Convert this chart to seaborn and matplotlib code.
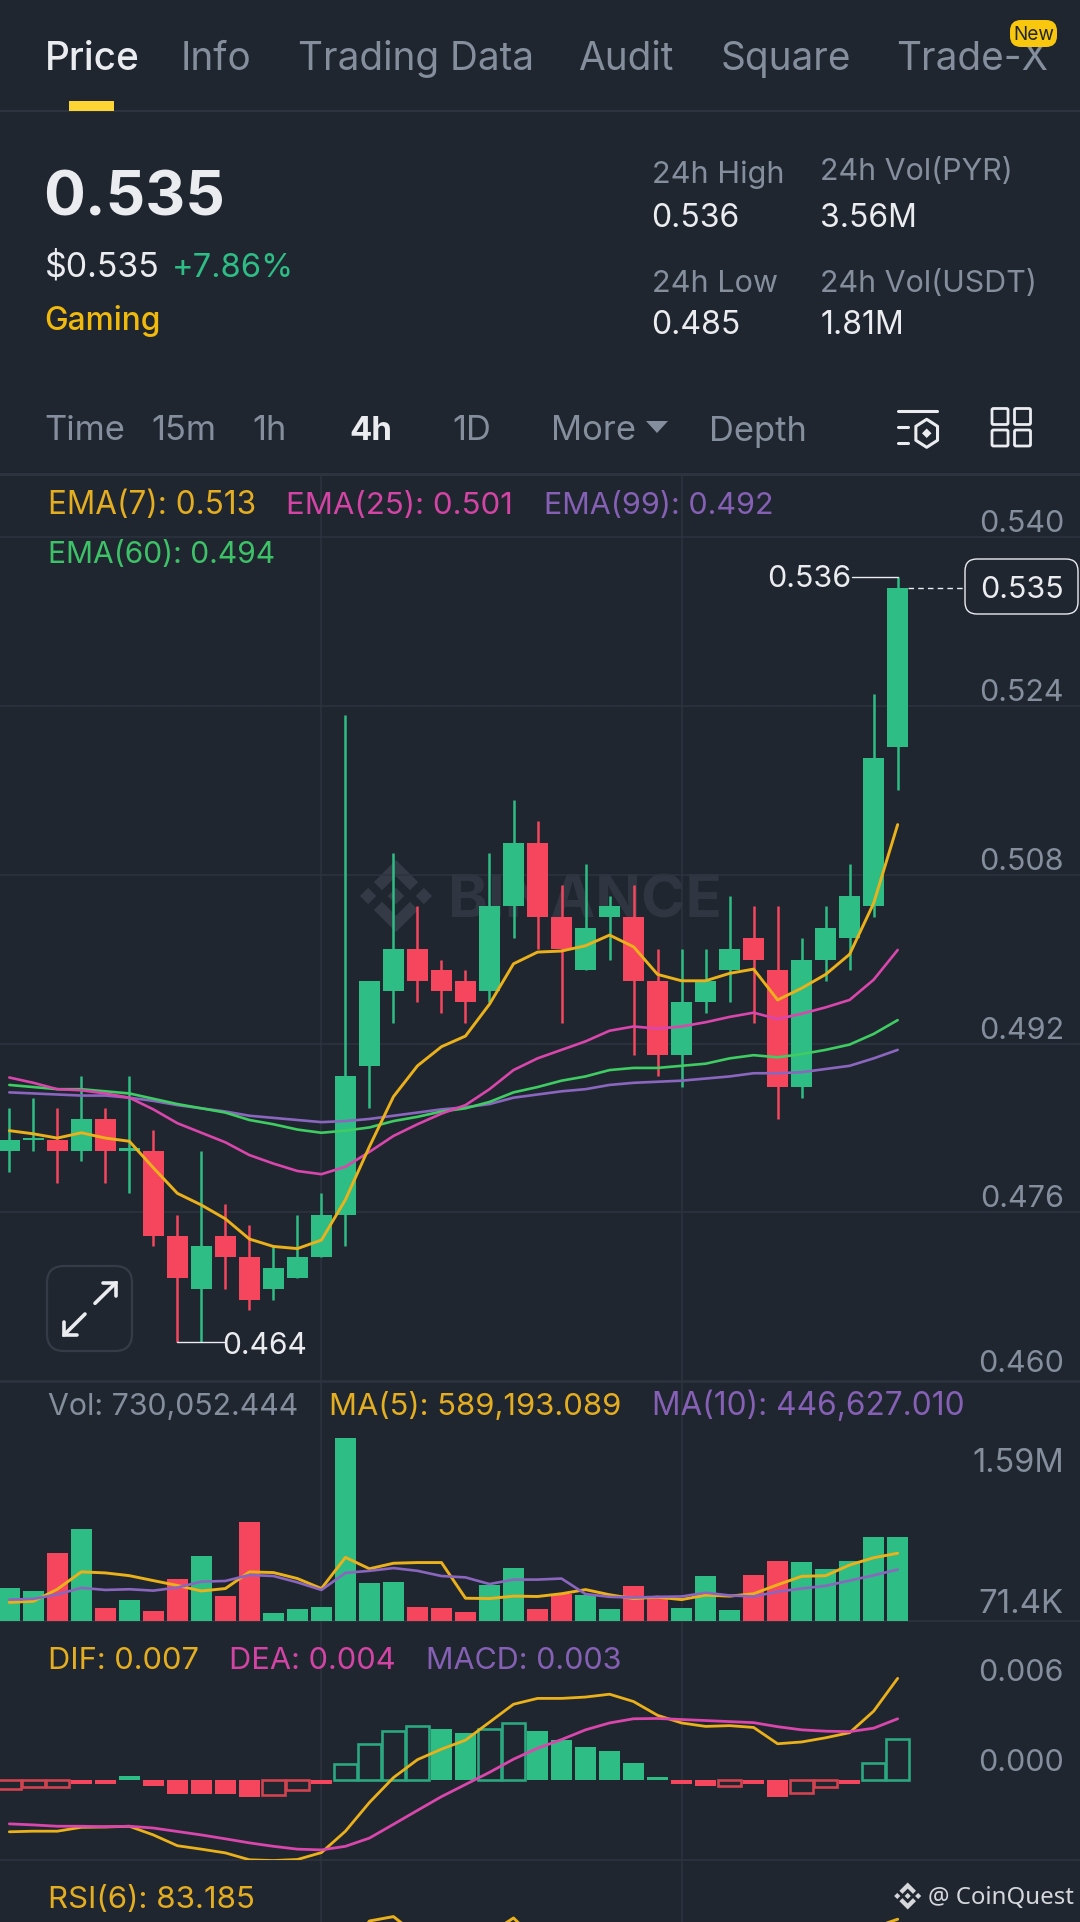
import numpy as np
import pandas as pd
import seaborn as sns
import matplotlib.pyplot as plt
from matplotlib.patches import FancyBboxPatch, Polygon, Rectangle

# ======================
# Data
# ======================
candle_idx = list(range(38))
opens = [.482, .483, .483, .482, .485, .482, .482, .474, .469, .474, .472, .469, .470, .472, .476, .490, .497, .501, .499, .498,
         .497, .505, .511, .504, .499, .504, .504, .498, .491, .496, .499, .502, .499, .488, .500, .502, .505, .520]
closes = [.483, .483, .482, .485, .482, .482, .474, .470, .473, .472, .468, .471, .472, .476, .489, .498, .501, .498, .497, .496,
          .505, .511, .504, .501, .503, .505, .498, .491, .496, .498, .501, .500, .488, .500, .503, .506, .519, .535]
highs = [.486, .487, .486, .489, .486, .489, .484, .476, .482, .477, .475, .473, .476, .478, .523, .498, .510, .505, .500, .499,
         .510, .515, .513, .507, .509, .506, .507, .501, .501, .501, .506, .505, .505, .502, .505, .509, .525, .536]
lows = [.480, .482, .479, .481, .479, .478, .473, .464, .464, .469, .467, .468, .470, .472, .473, .486, .494, .496, .495, .494,
        .496, .502, .501, .494, .499, .500, .491, .489, .488, .495, .496, .494, .485, .487, .498, .499, .504, .516]

ema7 = [.4839, .4836, .4832, .4837, .4832, .4829, .4804, .4780, .4769, .4756, .4737, .4730, .4728, .4736, .4774, .4824, .4871, .4900, .4918, .4928,
        .4958, .4996, .5007, .5008, .5013, .5023, .5012, .4986, .4980, .4980, .4987, .4991, .4962, .4973, .4986, .5005, .5053, .5127]
ema25 = [.4889, .4884, .4878, .4877, .4874, .4870, .4859, .4846, .4837, .4828, .4816, .4808, .4801, .4798, .4805, .4819, .4834, .4845, .4855, .4863,
         .4878, .4896, .4907, .4915, .4923, .4933, .4937, .4935, .4937, .4941, .4946, .4950, .4944, .4949, .4955, .4962, .4981, .5009]
ema60 = [.4882, .4880, .4878, .4878, .4876, .4874, .4869, .4864, .4860, .4856, .4849, .4845, .4840, .4837, .4839, .4842, .4848, .4852, .4857, .4860,
         .4866, .4875, .4880, .4886, .4890, .4896, .4898, .4898, .4900, .4902, .4907, .4910, .4908, .4911, .4915, .4920, .4930, .4943]
ema99 = [.4875, .4874, .4873, .4872, .4872, .4870, .4867, .4863, .4860, .4857, .4853, .4851, .4849, .4847, .4848, .4850, .4853, .4856, .4859, .4861,
         .4864, .4870, .4873, .4876, .4878, .4882, .4884, .4885, .4886, .4888, .4890, .4893, .4893, .4894, .4897, .4900, .4907, .4915]

# volumes in thousands
volume = [291, 264, 592, 796, 111, 186, 84, 366, 562, 216, 859, 72, 108, 126, 1590, 333, 342, 126, 111, 78,
          315, 460, 108, 231, 225, 108, 300, 216, 117, 394, 96, 397, 520, 511, 448, 520, 730, 730]
vol_ma5 = [162, 171, 276, 427, 418, 394, 351, 309, 261, 282, 427, 421, 369, 282, 553, 454, 502, 508, 508, 198,
           195, 216, 213, 237, 273, 228, 195, 207, 186, 225, 216, 237, 315, 388, 394, 487, 550, 589]
vol_ma10 = [186, 192, 231, 288, 270, 276, 264, 291, 342, 348, 400, 391, 336, 270, 418, 436, 460, 436, 391, 379,
            321, 360, 360, 369, 234, 210, 204, 210, 213, 246, 222, 213, 255, 282, 306, 351, 397, 447]

macd_hist = [-.00060, -.00050, -.00046, -.00030, -.00030, .00030, -.00042, -.00092, -.00095, -.00095, -.00111, -.00099, -.00069, -.00030,
             .00109, .00238, .00328, .00358, .00342, .00314, .00342, .00381, .00330, .00266, .00219, .00192, .00113, .00018,
             -.00025, -.00037, -.00037, -.00030, -.00111, -.00088, -.00046, -.00028, .00111, .00273]
macd_hollow = [1, 1, 1, 0, 0, 0, 0, 0, 0, 0, 0, 1, 1, 0, 1, 1, 1, 1, 0, 0, 1, 1, 0, 0, 0, 0, 0, 0, 0, 0, 1, 0, 0, 1, 1, 0, 1, 1]
dif = [-.00346, -.00342, -.00342, -.00316, -.00314, -.00309, -.00367, -.00439, -.00462, -.00487, -.00533, -.00538, -.00531, -.00485,
       -.00342, -.00150, .00016, .00136, .00206, .00266, .00386, .00506, .00545, .00545, .00554, .00573, .00524, .00432,
       .00381, .00358, .00363, .00351, .00242, .00254, .00282, .00316, .00460, .00679]
dea = [-.00293, -.00300, -.00309, -.00309, -.00312, -.00309, -.00321, -.00344, -.00367, -.00393, -.00420, -.00443, -.00462, -.00467,
       -.00443, -.00388, -.00296, -.00203, -.00111, -.00030, .00051, .00139, .00212, .00270, .00335, .00381, .00409, .00411,
       .00404, .00397, .00390, .00383, .00356, .00335, .00326, .00323, .00346, .00409]

rsi6 = [52, 50, 47, 55, 47, 49, 29, 24, 33, 30, 27, 36, 40, 48, 66, 82.3, 84.5, 75, 72, 68,
        76, 83.8, 72, 60, 66, 68, 52, 43, 52, 58, 62, 60, 47, 56, 62, 68, 79, 83.185]

price_ticks = [.53973, .52384, .50796, .49208, .47620]
price_tick_labels = ["0.540", "0.524", "0.508", "0.492", "0.476"]
tabs = ["Price", "Info", "Trading Data", "Audit", "Square", "Trade-X"]
tab_x = [46, 182, 300, 580, 722, 898]
periods = ["Time", "15m", "1h", "4h", "1D", "More", "Depth"]
period_x = [46, 153, 254, 351, 454, 552, 711]

# ======================
# Colours
# ======================
BG = "#1F2630"
GRID = "#2D343F"
GREEN = "#2EBD85"
RED = "#F6465D"
WHITE = "#EAECEF"
GREY = "#848E9C"
YELLOW = "#EBB11B"
MAGENTA = "#D946AC"
PURPLE = "#8A66BE"
LIME = "#3FCC63"

W, H = 1080, 1922
FONT = "Inter"

sns.set_theme(style="dark", rc={"figure.facecolor": BG, "axes.facecolor": "none"})
plt.rcParams["font.family"] = [FONT, "DejaVu Sans"]

fig = plt.figure(figsize=(W / 100, H / 100), dpi=100)
fig.patch.set_facecolor(BG)


def pixel_axes(zorder):
    a = fig.add_axes([0, 0, 1, 1], zorder=zorder)
    a.set_xlim(0, W)
    a.set_ylim(H, 0)
    a.axis("off")
    return a


def pane(top, bottom, ylim, yticks):
    a = fig.add_axes([0, 1 - bottom / H, 1, (bottom - top) / H], zorder=2)
    a.set_facecolor("none")
    a.set_xticks([13, 28])
    a.set_yticks(yticks)
    a.tick_params(length=0, labelleft=False, labelbottom=False)
    a.grid(True, color=GRID, lw=1.1)
    a.set_axisbelow(True)
    a.set_xlabel("")
    a.set_ylabel("")
    for s in a.spines.values():
        s.set_visible(False)
    return a, ylim


under = pixel_axes(1)
over = pixel_axes(5)


def txt(x, y, s, color=WHITE, px=30.5, ha="left", weight="normal", ax=over, family=None):
    # Inter has a bit of side bearing on the left
    if ha == "left":
        x -= 1.5
    ax.text(x, y, s, color=color, fontsize=px * 0.72, ha=ha, va="baseline",
            fontweight=weight, family=family or [FONT, "DejaVu Sans"])


def binance_logo(ax, cx, cy, size, color, zorder=3):
    shapes = [
        [(38.73, 53.2), (63.32, 28.62), (87.92, 53.22), (102.22, 38.91), (63.32, 0), (24.42, 38.9)],
        [(38.73, 73.41), (63.32, 98), (87.92, 73.4), (102.23, 87.69), (63.33, 126.6), (24.42, 87.72)],
        [(0, 63.31), (14.3, 49), (28.61, 63.31), (14.3, 77.61)],
        [(98.01, 63.31), (112.31, 49), (126.62, 63.3), (112.31, 77.62)],
        [(77.83, 63.3), (63.32, 48.78), (48.81, 63.28), (63.32, 77.78)],
    ]
    k = size / 126.6
    for pts in shapes:
        ax.add_patch(Polygon([(cx + (px - 63.3) * k, cy + (py - 63.3) * k) for px, py in pts],
                             closed=True, fc=color, ec="none", zorder=zorder))


XLIM = (-9.3 / 24.01, (W - 9.3) / 24.01)
is_up = [c >= o for o, c in zip(opens, closes)]

# ======================
# Watermark
# ======================
binance_logo(under, 396, 896, 72, "#343B46")
txt(449, 917, "BINANCE", color="#2F3641", px=60, weight="bold", ax=under)

# ======================
# Price pane
# ======================
ax_price, ylim = pane(474, 1381, (.46034, .54569), price_ticks)
for i in candle_idx:
    col = GREEN if is_up[i] else RED
    ax_price.vlines(i, lows[i], highs[i], color=col, lw=1.8, zorder=3)
    body = max(abs(closes[i] - opens[i]), .00025)
    ax_price.bar(i, body, bottom=min(opens[i], closes[i]), width=.865, color=col, lw=0, zorder=3)
for series, col, lw in [(ema99, PURPLE, 1.9), (ema60, LIME, 1.9), (ema25, MAGENTA, 1.9), (ema7, YELLOW, 2.1)]:
    sns.lineplot(x=candle_idx, y=series, color=col, lw=lw, ax=ax_price, errorbar=None, zorder=4)
# high and low markers
ax_price.plot([35.08, 37], [.536, .536], color=WHITE, lw=1, zorder=4)
ax_price.plot([7, 8.95], [.464, .464], color=WHITE, lw=1, zorder=4)
ax_price.plot([37.43, 39.8], [.535, .535], color=WHITE, lw=1, ls=(0, (4, 3)), zorder=4)
ax_price.set_xlim(*XLIM)
ax_price.set_ylim(*ylim)

# ======================
# Volume pane
# ======================
ax_vol, ylim = pane(1381, 1621, (0, 2086), [])
df_vol = pd.DataFrame({"i": candle_idx, "v": volume, "up": is_up})
sns.barplot(data=df_vol, x="i", y="v", hue="up", palette={True: GREEN, False: RED}, native_scale=True,
            dodge=False, width=.865, saturation=1, linewidth=0, legend=False, ax=ax_vol, zorder=3)
sns.lineplot(x=candle_idx, y=vol_ma5, color=YELLOW, lw=2.1, ax=ax_vol, errorbar=None, zorder=4)
sns.lineplot(x=candle_idx, y=vol_ma10, color=PURPLE, lw=1.9, ax=ax_vol, errorbar=None, zorder=5)
ax_vol.set_xlim(*XLIM)
ax_vol.set_ylim(*ylim)
ax_vol.set_xlabel("")
ax_vol.set_ylabel("")
ax_vol.set_xticks([13, 28])
ax_vol.tick_params(labelbottom=False, labelleft=False, length=0)

# ======================
# MACD pane
# ======================
ax_macd, ylim = pane(1621, 1860, (-.005344, .01062), [])
df_macd = pd.DataFrame({"i": candle_idx, "h": macd_hist, "hollow": macd_hollow})
df_macd["up"] = df_macd["h"] > 0
sns.barplot(data=df_macd[df_macd["hollow"] == 0], x="i", y="h", hue="up", palette={True: GREEN, False: RED},
            native_scale=True, dodge=False, width=.865, saturation=1, linewidth=0, legend=False, ax=ax_macd, zorder=3)
sns.barplot(data=df_macd[df_macd["hollow"] == 1], x="i", y="h", hue="up", palette={True: "#2BA880", False: "#D0434F"},
            native_scale=True, dodge=False, width=.96, saturation=1, fill=False, linewidth=1.9, legend=False, ax=ax_macd, zorder=3)
sns.lineplot(x=candle_idx, y=dif, color=YELLOW, lw=2.0, ax=ax_macd, errorbar=None, zorder=4)
sns.lineplot(x=candle_idx, y=dea, color=MAGENTA, lw=2.0, ax=ax_macd, errorbar=None, zorder=5)
ax_macd.set_xlim(*XLIM)
ax_macd.set_ylim(*ylim)
ax_macd.set_xlabel("")
ax_macd.set_ylabel("")
ax_macd.set_xticks([13, 28])
ax_macd.tick_params(labelbottom=False, labelleft=False, length=0)

# ======================
# RSI pane
# ======================
ax_rsi, ylim = pane(1860, 1922, (81.8, 112.8), [])
sns.lineplot(x=candle_idx, y=rsi6, color=YELLOW, lw=2.1, ax=ax_rsi, errorbar=None, zorder=4)
ax_rsi.set_xlim(*XLIM)
ax_rsi.set_ylim(*ylim)
ax_rsi.set_xlabel("")
ax_rsi.set_ylabel("")

# ======================
# Separators and header
# ======================
for y0, lw in [(111, 1.6), (474, 2.2), (1381, 1.8), (1621, 1.2), (1860, 1.2)]:
    under.plot([0, W], [y0, y0], color=GRID, lw=lw)
over.add_patch(Rectangle((69, 101), 45, 9.5, fc="#FCD535", ec="none"))

for i, (name, x0) in enumerate(zip(tabs, tab_x)):
    txt(x0, 69.5, name, color=WHITE if i == 0 else GREY, px=38.7, weight="medium" if i == 0 else "normal")
over.add_patch(FancyBboxPatch((1017, 27), 33, 13, boxstyle="round,pad=7,rounding_size=11", fc="#F9C80E", ec="none", zorder=3))
over.text(1033.5, 40, "New", color="#1F2630", fontsize=19 * 0.72, ha="center", va="baseline", zorder=4, family=[FONT])

txt(45, 215, "0.535", px=62, weight="bold")
txt(46, 277, "$0.535", px=34)
txt(173, 277, "+7.86%", color=GREEN, px=32.7)
txt(46, 330, "Gaming", color="#F0B90B", px=31.7, weight="medium")
txt(653, 183, "24h High", color=GREY, px=30.7)
txt(822, 180, "24h Vol(PYR)", color=GREY, px=30.4)
txt(653, 227, "0.536", px=32)
txt(822, 227, "3.56M", px=32)
txt(653, 292.5, "24h Low", color=GREY, px=30.7)
txt(822, 292.5, "24h Vol(USDT)", color=GREY, px=30.4)
txt(653, 334, "0.485", px=32)
txt(822, 334, "1.81M", px=32)

for name, x0 in zip(periods, period_x):
    txt(x0, 440.5, name, color=WHITE if name == "4h" else GREY, px=33 if name == "4h" else 34.5,
        weight="bold" if name == "4h" else "normal")
over.add_patch(Polygon([(646, 421), (668, 421), (657, 433)], closed=True, fc=GREY, ec="none"))

# indicator icon
for x0, x1, y0 in [(898, 937, 410.7), (898, 908, 426.7), (898, 908, 442.7)]:
    over.plot([x0, x1], [y0, y0], color=WHITE, lw=2.2, solid_capstyle="round")
hex_pts = [(926.7 + 12.5 * np.sin(a), 433.3 - 14 * np.cos(a)) for a in np.deg2rad(np.arange(0, 360, 60))]
over.add_patch(Polygon(hex_pts, closed=True, fc="none", ec=WHITE, lw=2.2, joinstyle="round"))
over.add_patch(Polygon([(926.7, 428.5), (931.5, 433.3), (926.7, 438), (922, 433.3)], closed=True, fc=WHITE, ec="none"))
# layout icon
for x0 in (992, 1014.5):
    for y0 in (408.5, 430):
        over.add_patch(FancyBboxPatch((x0, y0), 16, 16, boxstyle="round,pad=0,rounding_size=1.5", fc="none", ec=WHITE, lw=2))

# ======================
# Chart labels
# ======================
txt(49.6, 514, "EMA(7): 0.513", color="#E5AE20", px=31.5)
txt(288, 514, "EMA(25): 0.501", color="#D444A5", px=31.2)
txt(546, 514, "EMA(99): 0.492", color="#8560B5", px=30.5)
txt(49.6, 563, "EMA(60): 0.494", color="#3DC267", px=30)

for tick, label in zip(price_ticks, price_tick_labels):
    y0 = 534.5 + (.540 - tick) * 10626
    txt(1064, y0 - 5, label, color=GREY, ha="right")
txt(1064, 1372, "0.460", color=GREY, ha="right")

txt(851, 587, "0.536", ha="right")
txt(224, 1354, "0.464", px=30)
over.add_patch(FancyBboxPatch((972, 566), 99, 41, boxstyle="round,pad=7,rounding_size=12", fc=BG, ec=WHITE, lw=1))
txt(1064, 598, "0.535", ha="right")

# expand button
over.add_patch(FancyBboxPatch((64, 1283), 51, 51, boxstyle="round,pad=17,rounding_size=17", fc="none", ec="#353C47", lw=1.6))
for pts in ([(95, 1303.3), (116, 1282.7)], [(103.3, 1282.7), (116, 1282.7), (116, 1296)],
            [(85, 1314), (64, 1335)], [(64, 1321.7), (64, 1335), (77.3, 1335)]):
    over.plot(*zip(*pts), color=WHITE, lw=2.6, solid_capstyle="round", solid_joinstyle="miter")

txt(49, 1415, "Vol: 730,052.444", color=GREY, px=30.3)
txt(330.6, 1415, "MA(5): 589,193.089", color="#E5AE20", px=31)
txt(653, 1415, "MA(10): 446,627.010", color="#8560B5", px=31.6)
txt(1064, 1472, "1.59M", color=GREY, px=32.5, ha="right")
txt(1064, 1612.6, "71.4K", color=GREY, px=33, ha="right")

txt(49.6, 1669, "DIF: 0.007", color="#E5AE20", px=30.8)
txt(230.7, 1669, "DEA: 0.004", color="#D444A5", px=30.8)
txt(427, 1669, "MACD: 0.003", color="#8560B5", px=30.5)
txt(1064, 1681, "0.006", color=GREY, ha="right")
txt(1064, 1771, "0.000", color=GREY, ha="right")

txt(49.6, 1908, "RSI(6): 83.185", color="#E5AE20", px=31.2)
binance_logo(over, 907.7, 1896, 27, "#D5D7DB")
txt(929, 1904, "@ CoinQuest", color="#D5D7DB", px=24, family=["Noto Sans"])

fig.savefig("out.png", dpi=100, facecolor=BG)
